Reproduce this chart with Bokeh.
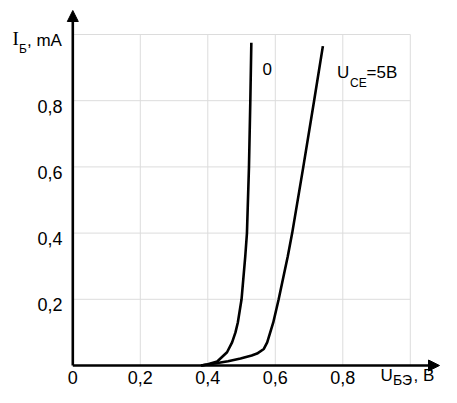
from bokeh.plotting import figure
from bokeh.models import Range1d, Arrow, NormalHead, Label, ColumnDataSource
from bokeh.core.properties import value
from bokeh.embed import file_html
from bokeh.resources import INLINE

# ---- data ----
u_be_0 = [0.38, 0.40, 0.428, 0.457, 0.472, 0.482, 0.489, 0.50, 0.511, 0.516, 0.522, 0.526, 0.529]
i_b_0 = [0.0, 0.004, 0.012, 0.04, 0.07, 0.10, 0.13, 0.20, 0.33, 0.40, 0.60, 0.80, 0.975]

u_be_5 = [0.38, 0.42, 0.46, 0.497, 0.53, 0.546, 0.566, 0.576, 0.594, 0.61, 0.637, 0.65, 0.683, 0.715, 0.741]
i_b_5 = [0.0, 0.006, 0.013, 0.021, 0.03, 0.036, 0.05, 0.07, 0.13, 0.20, 0.33, 0.40, 0.60, 0.80, 0.965]

x_ticks = [0, 0.2, 0.4, 0.6, 0.8]
x_tick_labels = ["0", "0,2", "0,4", "0,6", "0,8"]
y_ticks = [0.2, 0.4, 0.6, 0.8]
y_tick_labels = ["0,2", "0,4", "0,6", "0,8"]
grid_vals = [0.2, 0.4, 0.6, 0.8, 1.0]

# ---- layout constants (canvas pixels) ----
X_PX = 337.5   # px per unit (x)
Y_PX = 331.0   # px per unit (y)
X0 = 72.3      # canvas x of U=0
Y0 = 365.0     # canvas y of I=0
TXT_K = 0.36   # empirical baseline correction, fraction of font size

def dx(px):
    return (px - X0) / X_PX

def dy(py):
    return (Y0 - py) / Y_PX

def tdy(py, size):
    return dy(py - TXT_K * size)

W, H = 441, 387
p = figure(width=W, height=H, output_backend="svg", toolbar_location=None,
           x_range=Range1d(dx(0), dx(W)), y_range=Range1d(dy(H), dy(0)),
           min_border=0, outline_line_color=None)
p.axis.visible = False
p.grid.visible = False
p.background_fill_color = "white"
p.border_fill_color = "white"

SANS = "Liberation Sans"
GRID = "#dcdcdc"

# grid
p.segment(x0=grid_vals, y0=[0] * len(grid_vals), x1=grid_vals, y1=[1.0] * len(grid_vals),
          line_color=GRID, line_width=1)
p.segment(x0=[0] * len(grid_vals), y0=grid_vals, x1=[1.0] * len(grid_vals), y1=grid_vals,
          line_color=GRID, line_width=1)

# curves
p.line(u_be_0, i_b_0, line_color="black", line_width=2.6)
p.line(u_be_5, i_b_5, line_color="black", line_width=2.6)

# axes with arrows
p.add_layout(Arrow(end=NormalHead(size=11, fill_color="black", line_color="black"),
                   x_start=0, y_start=0, x_end=dx(439), y_end=0,
                   line_color="black", line_width=2.6))
p.add_layout(Arrow(end=NormalHead(size=11, fill_color="black", line_color="black"),
                   x_start=0, y_start=0, x_end=0, y_end=dy(10),
                   line_color="black", line_width=2.6))

# tick labels
xt = ColumnDataSource(dict(x=x_ticks, y=[tdy(383, 18)] * len(x_ticks), t=x_tick_labels))
p.text(x="x", y="y", text="t", source=xt, text_font=value(SANS), text_font_size="18px",
       text_align="center", text_baseline="alphabetic", text_color="black")
yt = ColumnDataSource(dict(x=[dx(62)] * len(y_ticks),
                           y=[t - 12 / Y_PX + TXT_K * 18 / Y_PX for t in y_ticks],
                           t=y_tick_labels))
p.text(x="x", y="y", text="t", source=yt, text_font=value(SANS), text_font_size="18px",
       text_align="right", text_baseline="alphabetic", text_color="black")

def lab(text, px, py, size=17, font=SANS):
    p.add_layout(Label(x=dx(px), y=tdy(py, size), text=text, text_font=font,
                       text_font_size=f"{size}px",
                       text_align="left", text_baseline="alphabetic", text_color="black"))

# y axis title I_Б, mA
lab("I", 12, 45, 19, "Liberation Serif")
lab("Б", 18.5, 53, 12)
lab(", mA", 26.5, 46, 17)

# x axis title U_БЭ, B
lab("U", 380, 381, 17)
lab("БЭ", 392.5, 385, 14)
lab(", B", 413, 381, 17)

# curve labels
lab("0", 262, 75, 17)
lab("U", 336.5, 78, 17)
lab("CE", 349.5, 87, 12)
lab("=5B", 366, 78, 17)

open("out.html", "w").write(file_html(p, INLINE))
